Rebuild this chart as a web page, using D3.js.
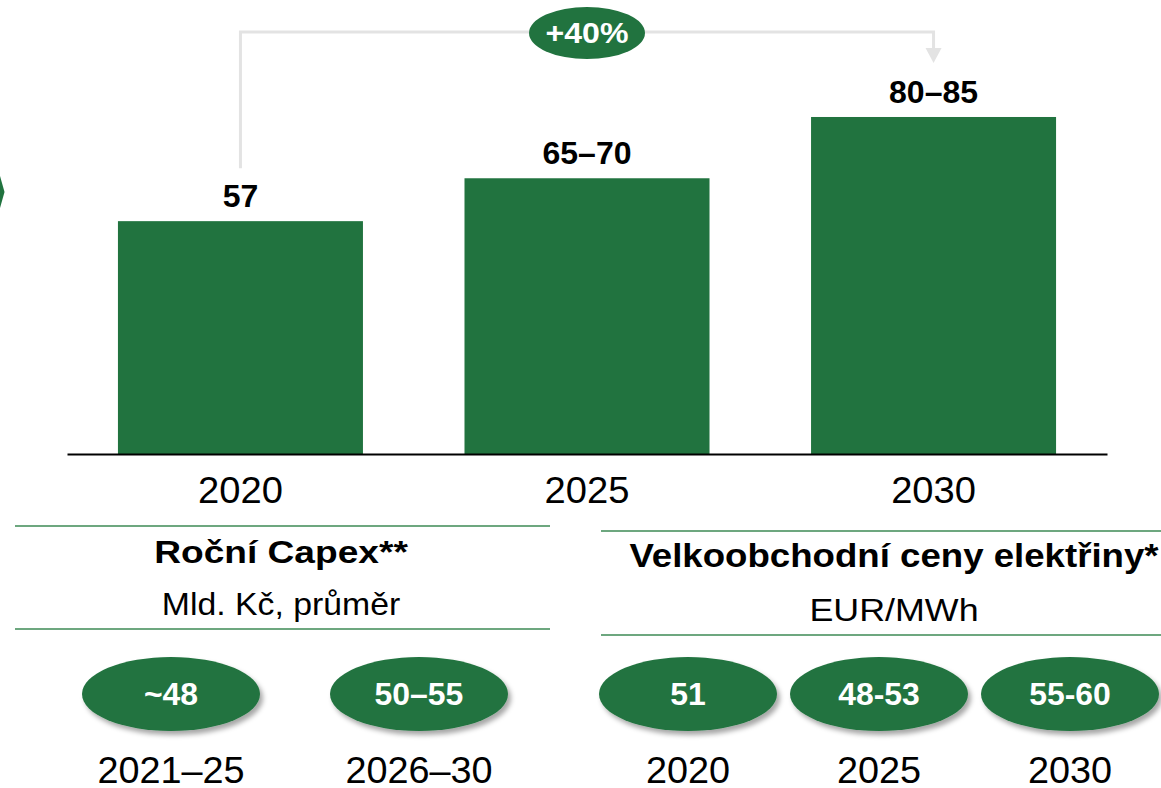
<!DOCTYPE html>
<head>
  <meta charset='utf-8'>
  <script src='https://d3js.org/d3.v7.min.js'></script>
  <style>
    body { margin: 0; background: #fff; }
    svg { display: block; font-family: 'Liberation Sans', Arial, sans-serif; }
    .axis-bottom .domain { stroke: #000; stroke-width: 2; }
  </style>
</head>

<body>
  <script>
// bar chart
const years = ['2020', '2025', '2030'];
const barValues = [57, 67.5, 82.5];
const barLabels = ['57', '65–70', '80–85'];
const growthLabel = '+40%';

// capex
const capexPeriods = ['2021–25', '2026–30'];
const capexValues = ['~48', '50–55'];

// wholesale prices
const priceYears = ['2020', '2025', '2030'];
const priceValues = ['51', '48-53', '55-60'];

const green = '#21733f';
const lineGreen = '#3d8a55';
const width = 1161, height = 788;

const svg = d3.select('body').append('svg').attr('width', width).attr('height', height);

const defs = svg.append('defs');
const shadow = defs.append('filter').attr('id', 'shadow')
  .attr('x', '-20%').attr('y', '-20%').attr('width', '140%').attr('height', '150%');
shadow.append('feDropShadow')
  .attr('dx', 3).attr('dy', 4).attr('stdDeviation', 2.5)
  .attr('flood-color', '#000').attr('flood-opacity', 0.35);

// text slightly wider than the font draws it, as in the slide
function label(g, cx, cy, txt, size, bold, sx, fill) {
  return g.append('text')
    .attr('transform', `translate(${cx},${cy}) scale(${sx},1)`)
    .attr('text-anchor', 'middle')
    .attr('font-weight', bold ? 'bold' : 'normal')
    .attr('font-size', size)
    .attr('fill', fill || '#000')
    .text(txt);
}

const x = d3.scaleBand()
  .domain(years)
  .range([67, 1107])
  .paddingInner(0.293)
  .paddingOuter(0.147);

const y = d3.scaleLinear()
  .domain([0, 100])
  .range([454, 45.5]);

// little chevron clipped at left edge
svg.append('polygon')
  .attr('points', '0,176 4.5,192 0,208')
  .attr('fill', green);

// bars
svg.append('g')
  .selectAll('rect')
  .data(years)
  .enter().append('rect')
  .attr('x', d => x(d))
  .attr('y', (d, i) => y(barValues[i]))
  .attr('width', x.bandwidth())
  .attr('height', (d, i) => y(0) - y(barValues[i]))
  .attr('fill', green);

const lbl = svg.append('g');
years.forEach((d, i) =>
  label(lbl, x(d) + x.bandwidth() / 2, y(barValues[i]) - 14, barLabels[i], 32, true, 1));

// axis
const axis = svg.append('g')
  .attr('class', 'axis-bottom')
  .attr('transform', 'translate(0,' + y(0) + ')')
  .call(d3.axisBottom(x).tickSize(0).tickSizeOuter(0).tickPadding(23));
axis.selectAll('text')
  .attr('font-size', 36)
  .attr('font-family', "'Liberation Sans', Arial, sans-serif")
  .attr('fill', '#000')
  .attr('transform', 'scale(1.06,1)');

// growth arrow
const x0 = x(years[0]) + x.bandwidth() / 2;
const x2 = x(years[2]) + x.bandwidth() / 2;
const arrowY = 32;
svg.append('path')
  .attr('d', `M${x0},${y(barValues[0]) - 53}V${arrowY}H${x2}V${arrowY + 17}`)
  .attr('fill', 'none')
  .attr('stroke', '#e3e3e3')
  .attr('stroke-width', 3);
svg.append('polygon')
  .attr('points', `${x2 - 8},${arrowY + 16} ${x2 + 8},${arrowY + 16} ${x2},${arrowY + 31}`)
  .attr('fill', '#e3e3e3');

const xm = x(years[1]) + x.bandwidth() / 2;
svg.append('ellipse')
  .attr('cx', xm).attr('cy', arrowY + 1)
  .attr('rx', 58).attr('ry', 26)
  .attr('fill', green);
label(svg, xm, arrowY + 11, growthLabel, 30, true, 1.07, '#fff');

// section headers
function header(x1, x2, yTop, yBot, title, unit, t, u) {
  const g = svg.append('g');
  [yTop, yBot].forEach(yy => g.append('line')
    .attr('x1', x1).attr('x2', x2).attr('y1', yy).attr('y2', yy)
    .attr('stroke', lineGreen).attr('stroke-width', 1.5));
  label(g, t.cx, t.y, title, t.size, true, t.sx);
  label(g, t.cx, u.y, unit, u.size, false, u.sx);
}
header(15, 550, 526, 629, 'Roční Capex**', 'Mld. Kč, průměr',
  {cx: 281, y: 563, size: 32, sx: 1.16}, {y: 615, size: 31, sx: 1.09});
header(601, 1180, 531, 635, 'Velkoobchodní ceny elektřiny*', 'EUR/MWh',
  {cx: 894, y: 567, size: 33, sx: 1.11}, {y: 621, size: 32, sx: 1.12});

// bubbles
function bubbles(labels, values, range) {
  const px = d3.scalePoint().domain(labels).range(range);
  labels.forEach((d, i) => {
    const g = svg.append('g').attr('transform', 'translate(' + px(d) + ',694)');
    g.append('ellipse')
      .attr('rx', 89).attr('ry', 37)
      .attr('fill', green)
      .attr('filter', 'url(#shadow)');
    label(g, 0, 11, values[i], 31, true, 1.03, '#fff');
    label(g, 0, 89, d, 36, false, 1.05);
  });
}
bubbles(capexPeriods, capexValues, [171, 419]);
bubbles(priceYears, priceValues, [688, 1070]);
  </script>
</body>
